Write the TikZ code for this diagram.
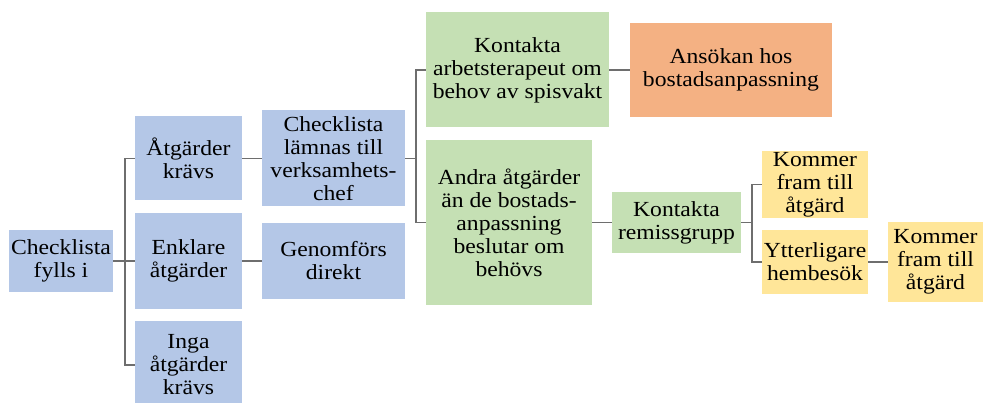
\documentclass[tikz,border=0pt]{standalone}
\usepackage{fontspec}
\setmainfont{Liberation Serif}[FakeStretch=1.1]
\definecolor{boxblue}{HTML}{B4C7E7}
\definecolor{boxgreen}{HTML}{C5E0B4}
\definecolor{boxorange}{HTML}{F4B183}
\definecolor{boxyellow}{HTML}{FFE699}
\definecolor{linegray}{HTML}{6E6E6E}
\tikzset{
  box/.style={inner sep=1pt,align=center,font=\fontsize{21.5}{23}\selectfont},
  bluebox/.style={box,fill=boxblue},
  greenbox/.style={box,fill=boxgreen},
  orangebox/.style={box,fill=boxorange},
  yellowbox/.style={box,fill=boxyellow},
  link/.style={draw=linegray,line width=1.5pt}
}
\begin{document}
\begin{tikzpicture}[x=1pt,y=-1pt]
\useasboundingbox (0,0) rectangle (984,403);
\clip (0,0) rectangle (984,403);

\node[bluebox,minimum width=104pt,minimum height=61pt] (fylls) at (61,261) {Checklista\\fylls i};
\node[bluebox,minimum width=107pt,minimum height=84pt] (krav) at (188.5,158.5) {Åtgärder\\krävs};
\node[bluebox,minimum width=107pt,minimum height=95pt] (enkl) at (188.5,261) {Enklare\\åtgärder};
\node[bluebox,minimum width=107pt,minimum height=88pt] (inga) at (188.5,365) {Inga\\åtgärder\\krävs};
\node[bluebox,minimum width=143pt,minimum height=96pt] (lamn) at (333.5,158.5) {Checklista\\lämnas till\\verksamhets-\\chef};
\node[bluebox,minimum width=143pt,minimum height=76pt] (geno) at (333.5,261) {Genomförs\\direkt};
\node[greenbox,minimum width=183pt,minimum height=115pt] (spis) at (517.5,70) {Kontakta\\arbetsterapeut om\\behov av spisvakt};
\node[orangebox,minimum width=202pt,minimum height=94pt] (anso) at (731,70) {Ansökan hos\\bostadsanpassning};
\node[greenbox,minimum width=166pt,minimum height=164pt] (andra) at (509,222.5) {Andra åtgärder\\än de bostads-\\anpassning\\beslutar om\\behövs};
\node[greenbox,minimum width=129pt,minimum height=61pt] (remi) at (676.5,222.5) {Kontakta\\remissgrupp};
\node[yellowbox,minimum width=106pt,minimum height=65pt] (kom1) at (815,184.5) {Kommer\\fram till\\åtgärd};
\node[yellowbox,minimum width=106pt,minimum height=63pt] (ytt) at (815,262) {Ytterligare\\hembesök};
\node[yellowbox,minimum width=95pt,minimum height=79pt] (kom2) at (935.5,262) {Kommer\\fram till\\åtgärd};

\coordinate (j1) at (125,261);
\coordinate (j2) at (416,158.5);
\coordinate (j3) at (752,222.5);

\draw[link] (fylls) -- (j1);
\draw[link] (krav.west) -| (j1) |- (inga.west);
\draw[link] (j1) -- (enkl);
\draw[link] (krav) -- (lamn);
\draw[link] (enkl) -- (geno);
\draw[link] (lamn) -- (j2);
\draw[link] (spis.west) -| (j2) |- (andra.west);
\draw[link] (spis) -- (anso);
\draw[link] (andra) -- (remi);
\draw[link] (remi) -- (j3);
\draw[link] (kom1.west) -| (j3) |- (ytt.west);
\draw[link] (ytt) -- (kom2);

\end{tikzpicture}
\end{document}
